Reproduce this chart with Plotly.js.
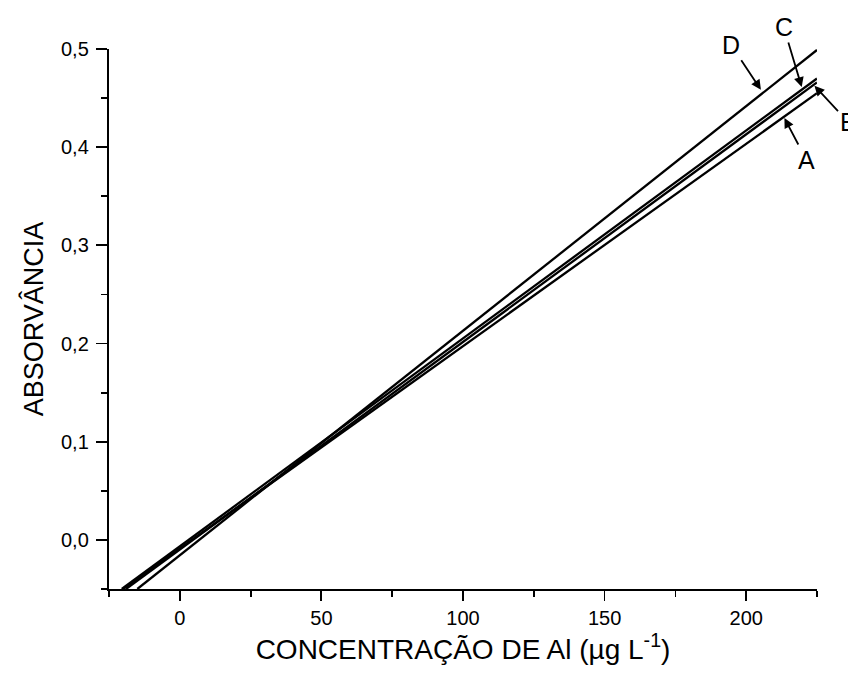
<!DOCTYPE html>
<html>
<head>
<meta charset="utf-8">
<script src="https://cdn.plot.ly/plotly-3.0.1.min.js"></script>
<style>html,body{margin:0;padding:0;background:#fff;}#chart{width:848px;height:677px;}</style>
</head>
<body>
<div id="chart"></div>
<script>
// Calibration lines (start at bottom axis crossing, end at right edge)
const seriesNames = ["A", "B", "C", "D"];
const xA = [-20, 225];
const yA = [-0.05, 0.455];
const xB = [-19, 225];
const yB = [-0.05, 0.466];
const xC = [-20.5, 225];
const yC = [-0.05, 0.470];
const xD = [-15, 225];
const yD = [-0.05, 0.499];

// Label arrow tips (data coordinates)
const tipX = [213.5, 224.1, 219.6, 205.2];
const tipY = [0.4297, 0.4625, 0.4612, 0.4584];

const xTicks = [0, 50, 100, 150, 200];
const yTicks = [0.0, 0.1, 0.2, 0.3, 0.4, 0.5];

const FONT = "Liberation Sans, Arial, sans-serif";
const lineStyle = {color: "#000", width: 2.3};
const traces = [[xA, yA], [xB, yB], [xC, yC], [xD, yD]].map((p, i) => ({
  x: p[0], y: p[1], type: "scatter", mode: "lines", name: seriesNames[i],
  line: lineStyle, hoverinfo: "none"
}));

const offsets = [[22, 42], [34, 36], [-18, -60], [-30, -45]];
const annotations = seriesNames.map((n, i) => ({
  x: tipX[i], y: tipY[i], xref: "x", yref: "y", text: n,
  showarrow: true, ax: offsets[i][0], ay: offsets[i][1],
  arrowhead: 2, arrowsize: 1.1, arrowwidth: 1.8, arrowcolor: "#000",
  standoff: 0, startstandoff: 0,
  font: {family: FONT, size: 25, color: "#000"}
}));

const layout = {
  width: 848, height: 677,
  margin: {l: 109, r: 31, t: 49, b: 88},
  paper_bgcolor: "#fff", plot_bgcolor: "#fff",
  showlegend: false,
  separators: ", ",
  font: {family: FONT, color: "#000"},
  xaxis: {
    range: [-25, 225], tickvals: xTicks, ticks: "outside", ticklen: 10, tickwidth: 1.8,
    tickcolor: "#000", showline: true, linewidth: 2.2, linecolor: "#000",
    showgrid: false, zeroline: false, tickfont: {size: 20, family: FONT},
    minor: {dtick: 25, tick0: 0, ticks: "outside", ticklen: 6, tickwidth: 1.8, tickcolor: "#000", showgrid: false},
    title: {text: "CONCENTRAÇÃO DE Al (µg L<sup>-1</sup>)", font: {size: 28, family: FONT}, standoff: 10}
  },
  yaxis: {
    range: [-0.05, 0.5], tickvals: yTicks, tickformat: ".1f", ticks: "outside", ticklen: 11, tickwidth: 1.8,
    tickcolor: "#000", showline: true, linewidth: 2.2, linecolor: "#000",
    showgrid: false, zeroline: false, tickfont: {size: 20, family: FONT}, ticklabelstandoff: 3,
    minor: {dtick: 0.05, tick0: 0, ticks: "outside", ticklen: 6, tickwidth: 1.8, tickcolor: "#000", showgrid: false},
    title: {text: "ABSORVÂNCIA", font: {size: 27, family: FONT}, standoff: 10}
  },
  annotations: annotations
};

Plotly.newPlot("chart", traces, layout, {displayModeBar: false, staticPlot: true});
</script>
</body>
</html>
